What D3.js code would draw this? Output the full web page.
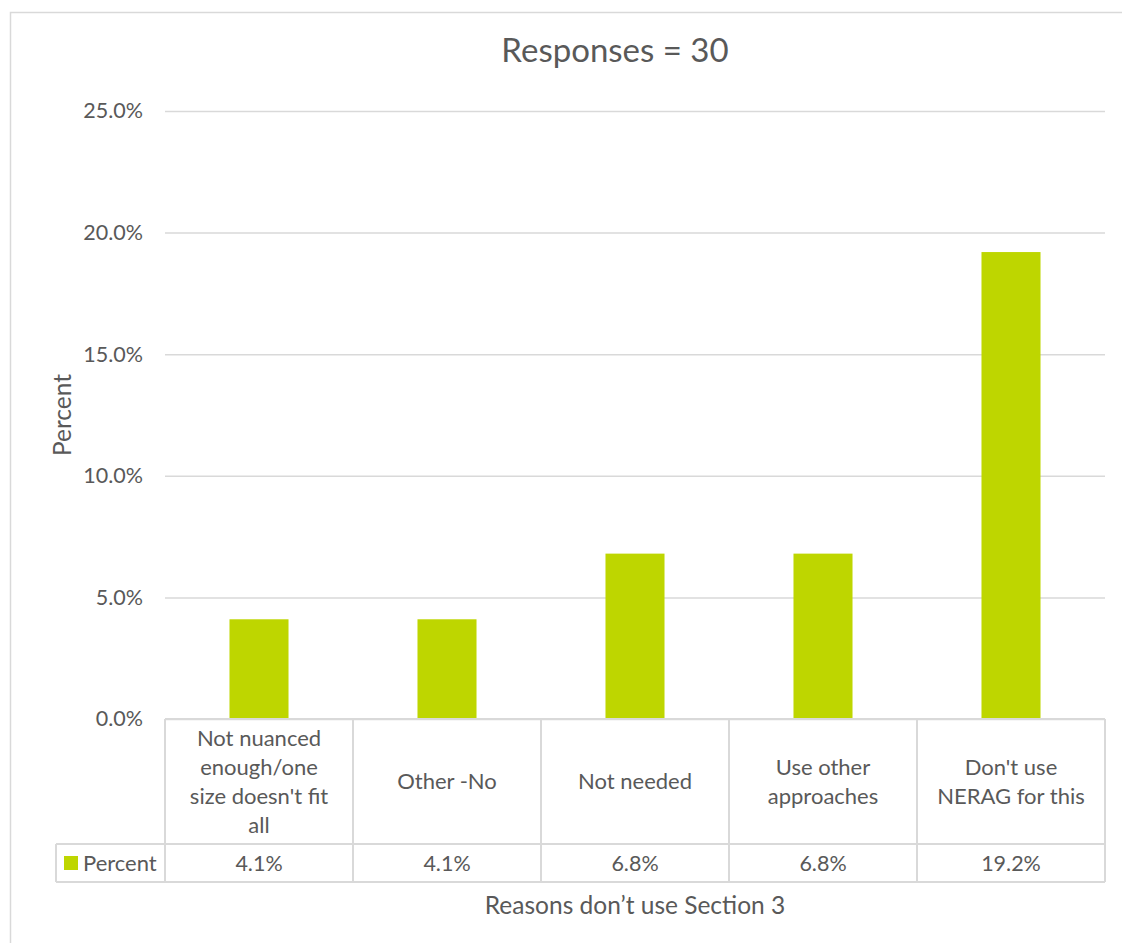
<!DOCTYPE html>
<html>
<head>
<meta charset="utf-8">
<script src="https://cdn.jsdelivr.net/npm/d3@7/dist/d3.min.js"></script>
<style>
  html, body { margin: 0; padding: 0; background: #fff; }
  svg text { font-family: "Lato", "Open Sans", sans-serif; fill: #595959; }
</style>
</head>
<body>
<svg id="chart" width="1122" height="943"></svg>
<script>
// Reasons for not using Section 3 (share of responses)
const categories = [
  ["Not nuanced", "enough/one", "size doesn't fit", "all"],
  ["Other -No"],
  ["Not needed"],
  ["Use other", "approaches"],
  ["Don't use", "NERAG for this"]
];
const values = [4.1, 4.1, 6.8, 6.8, 19.2];
const yTicks = [0, 5, 10, 15, 20, 25];
const seriesName = "Percent";
const titleText = "Responses = 30";
const xTitle = "Reasons don\u2019t use Section 3";
const yTitle = "Percent";

const barColor = "#BED600";
const gridColor = "#D9D9D9";

const svg = d3.select("#chart");
const plot = { left: 165, right: 1105, top: 111, bottom: 719 };
const table = { headerBottom: 844, rowBottom: 882, legendLeft: 56 };

// chart frame
svg.append("rect")
  .attr("x", 10.5).attr("y", 12.5)
  .attr("width", 1140).attr("height", 960)
  .attr("fill", "none").attr("stroke", gridColor).attr("stroke-width", 1.5);

const x = d3.scaleBand()
  .domain(d3.range(values.length))
  .range([plot.left, plot.right])
  .paddingInner(0.686).paddingOuter(0.343);

const xCells = d3.scaleBand()
  .domain(d3.range(values.length))
  .range([plot.left, plot.right]);

const y = d3.scaleLinear().domain([0, 25]).range([plot.bottom, plot.top]);

// gridlines and tick labels
const yAxis = d3.axisLeft(y)
  .tickValues(yTicks)
  .tickSize(-(plot.right - plot.left))
  .tickPadding(22)
  .tickFormat(d => d3.format(".1f")(d) + "%");

const gy = svg.append("g")
  .attr("transform", `translate(${plot.left},0)`)
  .call(yAxis);
gy.select(".domain").remove();
gy.selectAll(".tick line").attr("stroke", gridColor).attr("stroke-width", 1.5);
gy.selectAll(".tick text")
  .style("font-size", "21.5px")
  .attr("fill", "#595959");

// bars
svg.append("g").selectAll("rect")
  .data(values)
  .join("rect")
  .attr("x", (d, i) => x(i))
  .attr("width", x.bandwidth())
  .attr("y", d => y(d))
  .attr("height", d => y(0) - y(d))
  .attr("fill", barColor);

// data table
const tg = svg.append("g");
const lineStyle = sel => sel.attr("stroke", gridColor).attr("stroke-width", 2).attr("fill", "none");

// horizontal rules
tg.append("line").attr("x1", plot.left).attr("x2", plot.right)
  .attr("y1", plot.bottom).attr("y2", plot.bottom).call(lineStyle);
tg.append("line").attr("x1", table.legendLeft).attr("x2", plot.right)
  .attr("y1", table.headerBottom).attr("y2", table.headerBottom).call(lineStyle);
tg.append("line").attr("x1", table.legendLeft).attr("x2", plot.right)
  .attr("y1", table.rowBottom).attr("y2", table.rowBottom).call(lineStyle);
// vertical rules
const colEdges = d3.range(values.length).map(i => xCells(i)).concat([plot.right]);
colEdges.forEach(cx => {
  tg.append("line").attr("x1", cx).attr("x2", cx)
    .attr("y1", plot.bottom).attr("y2", table.rowBottom).call(lineStyle);
});
tg.append("line").attr("x1", table.legendLeft).attr("x2", table.legendLeft)
  .attr("y1", table.headerBottom).attr("y2", table.rowBottom).call(lineStyle);

// category labels
const lineH = 29;
const headerMid = (plot.bottom + table.headerBottom) / 2;
categories.forEach((lines, i) => {
  const cx = xCells(i) + xCells.bandwidth() / 2;
  const t = tg.append("text")
    .attr("text-anchor", "middle")
    .style("font-size", "22px");
  const y0 = headerMid - (lines.length - 1) * lineH / 2;
  lines.forEach((ln, k) => {
    t.append("tspan").attr("x", cx).attr("y", y0 + k * lineH)
      .attr("dy", "0.35em").text(ln);
  });
});

// value row
const rowMid = (table.headerBottom + table.rowBottom) / 2;
values.forEach((v, i) => {
  tg.append("text")
    .attr("x", xCells(i) + xCells.bandwidth() / 2)
    .attr("y", rowMid).attr("dy", "0.35em")
    .attr("text-anchor", "middle")
    .style("font-size", "21.5px")
    .text(d3.format(".1f")(v) + "%");
});

// legend key
tg.append("rect").attr("x", 64).attr("y", rowMid - 7).attr("width", 14).attr("height", 14)
  .attr("fill", barColor);
tg.append("text").attr("x", 83).attr("y", rowMid).attr("dy", "0.35em")
  .style("font-size", "22px").text(seriesName);

// titles
svg.append("text").attr("x", 615).attr("y", 50).attr("dy", "0.35em")
  .attr("text-anchor", "middle").style("font-size", "33px").text(titleText);

svg.append("text").attr("x", 635).attr("y", 905).attr("dy", "0.35em")
  .attr("text-anchor", "middle").style("font-size", "24.5px").text(xTitle);

svg.append("text")
  .attr("transform", "translate(62,415) rotate(-90)")
  .attr("dy", "0.35em")
  .attr("text-anchor", "middle").style("font-size", "24.5px").text(yTitle);
</script>
</body>
</html>
